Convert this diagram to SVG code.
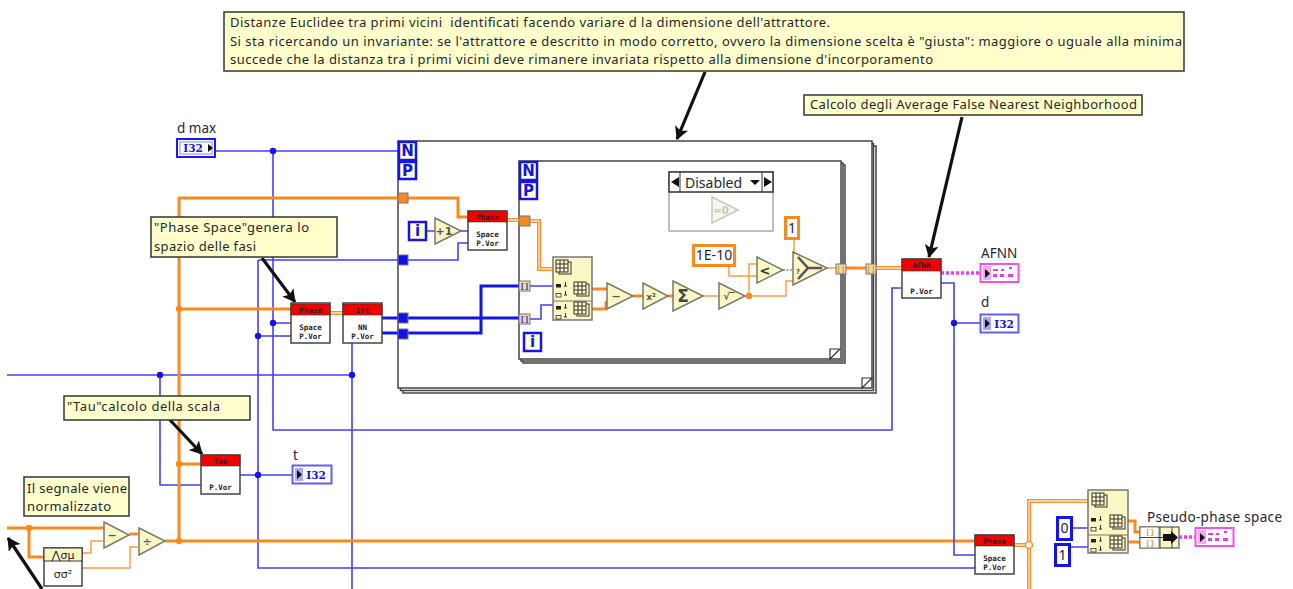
<svg xmlns="http://www.w3.org/2000/svg" width="1293" height="589" viewBox="0 0 1293 589">
<style>
text{font-family:"Noto Sans","Liberation Sans",sans-serif;fill:#26262e}
.note{fill:#ffffcc;stroke:#333;stroke-width:1.5}
.nt{font-size:13px}
.lb{font-size:13.5px}
.frame{fill:#fff;stroke:#444;stroke-width:1.5}
.o,.ot,.d1,.d2,.b,.bt,.p,.g{fill:none}
.o{stroke:#fb8a1c;stroke-width:3}
.ot{stroke:#fb9a40;stroke-width:1.4}
.d1{stroke:#fb8f2c;stroke-width:4}
.d2{stroke:#ffe6c4;stroke-width:1.3}
.b{stroke:#4242f2;stroke-width:1.6}
.bt{stroke:#1414e6;stroke-width:3}
.p{stroke:#f03cf0;stroke-width:3.500;stroke-dasharray:3 2}
.g{stroke:#55aa66;stroke-width:1.6;stroke-dasharray:2 1.5}
.arr{stroke:#111;stroke-width:3.200;fill:none;marker-end:url(#ah)}
.jo{fill:#fb8a1c}.jb{fill:#1414e6}
.vi{fill:#fff;stroke:#444;stroke-width:1.500}
.red{fill:#f40000;stroke:#333;stroke-width:.6}
.tiny{font-family:"DejaVu Sans Mono","Liberation Mono",monospace;font-size:7.5px;font-weight:700;text-anchor:middle;fill:#222}
.tri{fill:#fbf7c4;stroke:#7a7a6c;stroke-width:1.5}
.tg{font-family:"DejaVu Sans","Liberation Sans",sans-serif;font-size:11px;font-weight:700;text-anchor:middle;fill:#555}
.term{fill:#ffffd8;stroke:#1414f0;stroke-width:2.500}
.tl{font-family:"DejaVu Sans","Liberation Sans",sans-serif;font-size:15px;font-weight:700;text-anchor:middle;fill:#1414e0}
.tun{fill:#f68b1f;stroke:#777;stroke-width:1}
.tub{fill:#1010e8;stroke:#777;stroke-width:1}
.idx{fill:#e6dca8;stroke:#777;stroke-width:1}
.cst{fill:#fff;stroke-width:3}
.ctext{font-size:14px;text-anchor:middle}
.ico{fill:none;stroke:#333;stroke-width:1}
.pan{fill:#fbf7c4;stroke:#777;stroke-width:1.500}
.ind{fill:#fff;stroke-width:2}
.i32{font-family:"DejaVu Serif","Liberation Serif",serif;font-size:10.500px;font-weight:700;text-anchor:middle;fill:#1414e0}
</style>
<defs>
<marker id="ah" viewBox="0 0 14 14" refX="12" refY="7" markerWidth="14" markerHeight="14" markerUnits="userSpaceOnUse" orient="auto"><path d="M0 0L13 7L0 14L3 7Z" fill="#111"/></marker>
<g id="grid"><rect x="3" y="2" width="12" height="12" fill="#fbf7c4" stroke="#333"/><rect x="0" y="0" width="12" height="12" fill="#fbf7c4" stroke="#333"/><path class="ico" d="M4 0V12M8 0V12M0 4H12M0 8H12"/></g>
<g id="ports"><rect x="0" y="3" width="5" height="3.5" fill="#222"/><path d="M8 5H11M9.5 1V5" stroke="#333" fill="none"/><rect x="0" y="12.500" width="5" height="3.5" fill="none" stroke="#333" stroke-width=".8"/><path d="M8 14H11M9.5 10V14" stroke="#333" fill="none"/></g>
</defs>
<rect width="1293" height="589" fill="#fff"/>

<g id="outer-loop">
<rect class="frame" x="403" y="146" width="473" height="247"/>
<rect class="frame" x="400.500" y="143.500" width="473" height="247"/>
<rect class="frame" x="398" y="141" width="474" height="247"/>
<path d="M862 388L872 378H862Z" fill="#fff" stroke="#333" stroke-width="1.200"/>
</g>
<g id="inner-loop">
<rect class="frame" x="523" y="165" width="322" height="198"/>
<rect class="frame" x="521" y="163" width="322" height="198"/>
<rect class="frame" x="519" y="161" width="322" height="198"/>
<path d="M830 359L840 349H830Z" fill="#fff" stroke="#333" stroke-width="1.200"/>
</g>

<g id="connectors">
<path class="b" d="M215 151H398M273 151V430H892V288H901M273 323H291M258 336H291M258 260V568H975M258 260H398M408 260H458V243H468"/>
<path class="b" d="M7 375H352M160 375V485H201M352 343V589M240 475H292"/>
<path class="b" d="M426 231H435M461 231H468"/>
<path class="o" d="M398 198H179V540M408 198H458V217H468M179 309H291M179 464H201M7 528H104M29 528V557H44M165 541H975M129 534H138"/>
<path class="ot" d="M82 553H91V541H103M82 568H130V547H138"/>
<path class="d1" d="M330 313H343M507 220H519M530 221H539V269H553M876 268H901M1014 545H1029M1029 589V501H1088"/>
<path class="d2" d="M330 313H343M507 220H519M530 221H539V269H553M876 268H901M1014 545H1029M1029 589V501H1088"/>
<path class="bt" d="M382 318H519M382 333H481V286H519"/>
<path class="b" d="M530 286H553M530 319H541V305H553"/>
<path class="o" d="M592 289H607M592 309H606V301M633 296H643M668 296H673M846 268H866M1128 521H1135V532H1140M1128 542H1140"/>
<path class="ot" d="M703 296H719M745 296H786V281H793M749 296V264H757M729 266V276H757M794 239V255M827 268H836"/>
<path class="g" d="M783 270H793"/>
<path class="p" d="M941 273H980M1179 537H1195"/>
<path class="b" d="M941 283H954V555H975M954 323H980M1072 528H1088M1070 547H1088"/>
<circle class="jb" cx="273" cy="151" r="3.200"/><circle class="jb" cx="273" cy="323" r="3.200"/><circle class="jb" cx="258" cy="336" r="3.200"/><circle class="jb" cx="160" cy="375" r="3.200"/><circle class="jb" cx="352" cy="375" r="3.200"/><circle class="jb" cx="258" cy="475" r="3.200"/><circle class="jb" cx="954" cy="323" r="3.200"/>
<circle class="jo" cx="179" cy="309" r="3.200"/><circle class="jo" cx="179" cy="464" r="3.200"/><circle class="jo" cx="179" cy="541" r="3.200"/><circle class="jo" cx="29" cy="528" r="3.200"/><circle class="jo" cx="749" cy="296" r="3.200"/>
<circle cx="1029" cy="545" r="3.500" fill="#fff" stroke="#fb8f2c" stroke-width="1.500"/>
<path class="arr" d="M705 72L677 139"/>
<path class="arr" d="M962 117L929 257"/>
<path class="arr" d="M262 258L295 302"/>
<path class="arr" d="M170 420L202 454"/>
<path class="arr" d="M42 589L8 538"/>
</g>

<g id="terminals-outer">
<rect class="term" x="399" y="142" width="17" height="18"/><text class="tl" x="407.500" y="156">N</text>
<rect class="term" x="399" y="162" width="17" height="17"/><text class="tl" x="407.500" y="176">P</text>
<rect class="term" x="409" y="222" width="17" height="18"/><text class="tl" x="417.500" y="236">i</text>
<rect class="tun" x="398" y="193" width="10" height="10"/>
<rect class="tub" x="398" y="255" width="10" height="10"/>
<rect class="tub" x="398" y="313" width="10" height="10"/>
<rect class="tub" x="398" y="329" width="10" height="10"/>
</g>
<g id="terminals-inner">
<rect class="term" x="520" y="162" width="17" height="18"/><text class="tl" x="528.500" y="176">N</text>
<rect class="term" x="520" y="182" width="17" height="17"/><text class="tl" x="528.500" y="196">P</text>
<rect class="term" x="524" y="333" width="17" height="18"/><text class="tl" x="532.500" y="347">i</text>
<rect class="tun" x="519" y="216" width="11" height="10"/>
<rect class="idx" x="519" y="281" width="11" height="10"/><text class="tiny" x="524.500" y="288.500" style="fill:#1414e0">[]</text>
<rect class="idx" x="519" y="314" width="11" height="10"/><text class="tiny" x="524.500" y="321.500" style="fill:#1414e0">[]</text>
<rect class="idx" x="836" y="264" width="10" height="10"/><text class="tiny" x="841" y="271.500" style="fill:#f68b1f">[]</text>
<rect class="idx" x="866" y="264" width="10" height="10"/><text class="tiny" x="871" y="271.500" style="fill:#f68b1f">[]</text>
</g>

<g id="vi-phase1"><rect class="vi" x="291" y="303" width="39" height="40"/><rect class="red" x="291" y="304" width="39" height="11"/><text class="tiny" x="310.500" y="313">Phase</text><text class="tiny" x="310.500" y="330">Space</text><text class="tiny" x="310.500" y="339">P.Vor</text></g>
<g id="vi-nrt"><rect class="vi" x="343" y="303" width="39" height="40"/><rect class="red" x="343" y="304" width="39" height="11"/><text class="tiny" x="362.500" y="313">1rt</text><text class="tiny" x="362.500" y="330">NN</text><text class="tiny" x="362.500" y="339">P.Vor</text></g>
<g id="vi-phase2"><rect class="vi" x="468" y="211" width="39" height="39"/><rect class="red" x="468" y="211" width="39" height="11"/><text class="tiny" x="487.500" y="220">Phase</text><text class="tiny" x="487.500" y="237">Space</text><text class="tiny" x="487.500" y="246">P.Vor</text></g>
<g id="vi-tau"><rect class="vi" x="201" y="455" width="39" height="39"/><rect class="red" x="201" y="455" width="39" height="11"/><text class="tiny" x="220.500" y="464">Tau</text><text class="tiny" x="220.500" y="490">P.Vor</text></g>
<g id="vi-afnn"><rect class="vi" x="902" y="259" width="39" height="39"/><rect class="red" x="902" y="259" width="39" height="12"/><text class="tiny" x="921.500" y="268">AFNN</text><text class="tiny" x="921.500" y="294">P.Vor</text></g>
<g id="vi-phase3"><rect class="vi" x="975" y="535" width="39" height="39"/><rect class="red" x="975" y="535" width="39" height="11"/><text class="tiny" x="994.500" y="544">Phase</text><text class="tiny" x="994.500" y="561">Space</text><text class="tiny" x="994.500" y="570">P.Vor</text></g>
<g id="vi-stat"><rect class="vi" x="44" y="548" width="38" height="38"/><rect x="44" y="548" width="38" height="13" fill="#fbf7c4" stroke="#333"/><text x="63" y="559" text-anchor="middle" style="font-family:'DejaVu Sans',sans-serif;font-size:11px;fill:#222">⋀σμ</text><text x="63" y="578" text-anchor="middle" style="font-family:'DejaVu Sans',sans-serif;font-size:11px;fill:#222">σσ²</text></g>

<g id="op-sub1"><path class="tri" d="M104 522L129 535L104 548Z"/><text class="tg" x="112" y="539">−</text></g>
<g id="op-div"><path class="tri" d="M139 528L165 541L139 555Z"/><text class="tg" x="147" y="545">÷</text></g>
<g id="op-inc"><path class="tri" d="M435 218L461 231L435 244Z"/><text class="tg" x="444" y="235">+1</text></g>
<g id="op-sub2"><path class="tri" d="M607 283L633 296L607 309Z"/><text class="tg" x="616" y="300">−</text></g>
<g id="op-sq"><path class="tri" d="M643 283L668 296L643 309Z"/><text class="tg" x="651" y="300" style="font-size:9px">x²</text></g>
<g id="op-sum"><path class="tri" d="M673 281L703 296L673 311Z"/><text class="tg" x="683" y="302" style="font-size:17px;fill:#444">Σ</text></g>
<g id="op-sqrt"><path class="tri" d="M719 283L745 296L719 309Z"/><text class="tg" x="729" y="300" style="font-size:10px">√‾</text></g>
<g id="op-lt"><path class="tri" d="M757 257L783 270L757 283Z"/><text class="tg" x="765" y="275" style="font-size:13px;fill:#333">&lt;</text></g>
<g id="op-select"><path class="tri" d="M793 252L827 268L793 285Z"/><path d="M798 257L808 268L798 279M806 268H822" fill="none" stroke="#555" stroke-width="2.600"/><text x="796" y="274" style="font-family:'DejaVu Sans',sans-serif;font-size:7px;font-weight:700;fill:#555">?</text></g>

<g id="const-1e10"><rect class="cst" x="693.500" y="245.500" width="41" height="20" stroke="#f68b1f"/><text class="ctext" x="714" y="260">1E-10</text></g>
<g id="const-1"><rect class="cst" x="785.500" y="217.500" width="13" height="21" stroke="#f68b1f"/><text class="ctext" x="792" y="233">1</text></g>
<g id="const-0b"><rect class="cst" x="1057.500" y="517.500" width="14" height="22" stroke="#1414e6"/><text class="ctext" x="1064.500" y="533">0</text></g>
<g id="const-1b"><rect class="cst" x="1055.500" y="544.500" width="14" height="21" stroke="#1414e6"/><text class="ctext" x="1062.500" y="560">1</text></g>

<g id="disabled">
<rect x="669" y="172" width="104" height="59" fill="#fff" stroke="#aaa" stroke-width="1.500"/>
<rect x="669" y="172" width="104" height="20" fill="#fff" stroke="#333" stroke-width="1.500"/>
<path d="M680 172V192M762 172V192" stroke="#333" fill="none"/>
<path d="M671 182L679 177V187ZM764 177L772 182L764 187ZM750 180H760L755 185Z" fill="#111"/>
<text x="685" y="188" style="font-size:14px">Disabled</text>
<path d="M712 197L738 210L712 223Z" fill="#f7f7ea" stroke="#c8c8c0" stroke-width="1.500"/>
<text x="721" y="214" style="font-family:'DejaVu Sans',sans-serif;font-size:10px;font-weight:700;fill:#c8c8c0;text-anchor:middle">=0</text>
</g>

<g id="build-array1">
<rect class="pan" x="553" y="257" width="39" height="63"/><path d="M553 301H592" stroke="#777"/>
<use href="#grid" x="556" y="260"/><use href="#ports" x="556" y="281"/><use href="#grid" x="574" y="282"/><use href="#ports" x="556" y="303"/><use href="#grid" x="574" y="302"/>
</g>
<g id="build-array2">
<rect class="pan" x="1088" y="490" width="40" height="63"/><path d="M1088 535H1128" stroke="#777"/>
<use href="#grid" x="1092" y="493"/><use href="#ports" x="1091" y="515"/><use href="#grid" x="1110" y="515"/><use href="#ports" x="1091" y="536"/><use href="#grid" x="1110" y="536"/>
</g>
<g id="bundle">
<rect class="pan" x="1140" y="527" width="39" height="21"/><rect x="1140" y="527" width="19" height="21" fill="#fff" stroke="#777"/><path d="M1140 537.500H1172M1160 527V548M1172 527V548" stroke="#444"/>
<path d="M1163 534H1171V531L1178 537.500L1171 544V541H1163Z" fill="#111"/>
<text class="tiny" x="1150" y="535" style="fill:#f68b1f">[]</text><text class="tiny" x="1150" y="546" style="fill:#f68b1f">[]</text>
</g>

<g id="ctl-dmax"><rect class="ind" x="177" y="139" width="38" height="18" stroke="#1818f0" stroke-width="2.500"/><rect x="180" y="142" width="32" height="12" fill="#fff" stroke="#8888f0"/><text class="i32" x="193" y="152">I32</text><path d="M208 144L213 148L208 152Z" fill="#111"/></g>
<g id="ind-t"><rect class="ind" x="292.500" y="465.500" width="39" height="18" stroke="#6060f0"/><rect x="295" y="468" width="8" height="13" fill="#a8a8f4"/><path d="M297 470L302 474.500L297 479Z" fill="#111"/><text class="i32" x="316" y="478.500">I32</text></g>
<g id="ind-d"><rect class="ind" x="980.500" y="314.500" width="38" height="18" stroke="#6060f0"/><rect x="983" y="317" width="8" height="13" fill="#a8a8f4"/><path d="M985 319L990 323.500L985 328Z" fill="#111"/><text class="i32" x="1004" y="327.500">I32</text></g>
<g id="ind-afnn"><rect class="ind" x="980.500" y="264" width="38" height="18" stroke="#f050f0"/><rect x="983" y="266" width="8" height="14" fill="#f4a8f4"/><path d="M985 269L990 273.500L985 278Z" fill="#111"/><path d="M993 269h5v2h-5zM1001 269h3v2h-3zM1009 267h3v2h-3zM993 274h4v3h-4zM1000 274h4v3h-4zM1008 274h5v3h-5z" fill="#e040e0"/></g>
<g id="ind-pseudo"><rect class="ind" x="1195.500" y="528" width="38" height="18" stroke="#f050f0"/><rect x="1198" y="530" width="8" height="14" fill="#f4a8f4"/><path d="M1200 533L1205 537.500L1200 542Z" fill="#111"/><path d="M1208 533h5v2h-5zM1216 533h3v2h-3zM1224 531h3v2h-3zM1208 538h4v3h-4zM1215 538h4v3h-4zM1223 538h5v3h-5z" fill="#e040e0"/></g>

<g id="labels">
<text class="lb" x="177" y="133">d max</text>
<text class="lb" x="293" y="460">t</text>
<text class="lb" x="981" y="258">AFNN</text>
<text class="lb" x="981" y="307">d</text>
<text class="lb" x="1147" y="522" textLength="135">Pseudo-phase space</text>
</g>

<g id="note-main"><rect class="note" x="224" y="12" width="960" height="59"/>
<text class="nt" x="230" y="27" textLength="600" xml:space="preserve">Distanze Euclidee tra primi vicini  identificati facendo variare d la dimensione dell'attrattore.</text>
<text class="nt" x="230" y="46" textLength="952">Si sta ricercando un invariante: se l'attrattore e descritto in modo corretto, ovvero la dimensione scelta è "giusta": maggiore o uguale alla minima</text>
<text class="nt" x="230" y="64" textLength="703">succede che la distanza tra i primi vicini deve rimanere invariata rispetto alla dimensione d'incorporamento</text></g>
<g id="note-afnn"><rect class="note" x="804" y="95" width="338" height="20"/><text class="nt" x="810" y="109" textLength="327">Calcolo degli Average False Nearest Neighborhood</text></g>
<g id="note-phase"><rect class="note" x="151" y="217" width="186" height="40"/><text class="nt" x="154" y="232" textLength="155">"Phase Space"genera lo</text><text class="nt" x="154" y="251" textLength="102">spazio delle fasi</text></g>
<g id="note-tau"><rect class="note" x="64" y="396" width="186" height="24"/><text class="nt" x="67" y="411" textLength="153">"Tau"calcolo della scala</text></g>
<g id="note-signal"><rect class="note" x="24" y="477" width="105" height="39"/><text class="nt" x="27" y="493" textLength="100">Il segnale viene</text><text class="nt" x="27" y="511" textLength="84">normalizzato</text></g>
</svg>
